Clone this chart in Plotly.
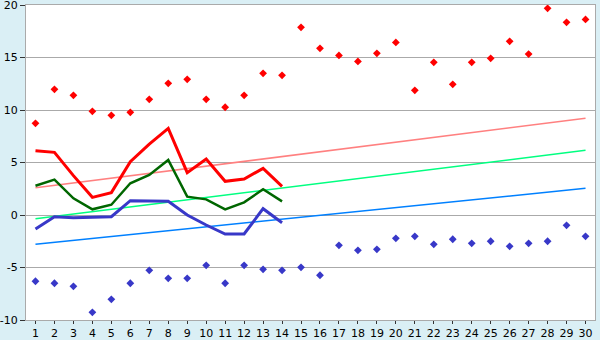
import plotly.graph_objects as go

days = list(range(1, 31))
line_days = list(range(1, 15))

red_points = [8.73, 11.97, 11.4, 9.87, 9.49, 9.78, 11.02, 12.54, 12.92, 11.02,
              10.26, 11.4, 13.49, 13.3, 17.87, 15.87, 15.2, 14.63, 15.4, 16.44,
              11.87, 14.54, 12.45, 14.54, 14.92, 16.54, 15.33, 19.68, 18.35, 18.63]
blue_points = [-6.31, -6.5, -6.79, -9.27, -8.03, -6.5, -5.27, -6.03, -6.03, -4.79,
               -6.5, -4.79, -5.17, -5.27, -4.98, -5.74, -2.89, -3.36, -3.27, -2.22,
               -2.03, -2.79, -2.31, -2.7, -2.5, -2.98, -2.7, -2.5, -0.98, -2.03]

red_line = [6.13, 5.97, 3.75, 1.68, 2.13, 5.08, 6.75, 8.25, 4.03, 5.33, 3.21, 3.43, 4.44, 2.73]
green_line = [2.79, 3.37, 1.59, 0.54, 0.98, 3.02, 3.81, 5.24, 1.75, 1.49, 0.54, 1.21, 2.45, 1.3]
blue_line = [-1.33, -0.16, -0.25, -0.19, -0.16, 1.36, 1.3, 1.3, 0.0, -0.95, -1.81, -1.81, 0.6, -0.73]

trend_days = [1, 30]
pink_trend = [2.6, 9.21]
spring_trend = [-0.35, 6.16]
sky_trend = [-2.79, 2.54]

y_ticks = [-10, -5, 0, 5, 10, 15, 20]
y_labels = ["-10", "-5", "0", "5", "10", "15", "20"]

fig = go.Figure()
fig.add_trace(go.Scatter(x=trend_days, y=pink_trend, mode="lines",
                         line=dict(color="#FF8080", width=1.5), hoverinfo="skip"))
fig.add_trace(go.Scatter(x=trend_days, y=spring_trend, mode="lines",
                         line=dict(color="#00FF80", width=1.5), hoverinfo="skip"))
fig.add_trace(go.Scatter(x=trend_days, y=sky_trend, mode="lines",
                         line=dict(color="#0080FF", width=1.5), hoverinfo="skip"))
fig.add_trace(go.Scatter(x=line_days, y=red_line, mode="lines",
                         line=dict(color="#FF0000", width=3)))
fig.add_trace(go.Scatter(x=line_days, y=green_line, mode="lines",
                         line=dict(color="#006600", width=2.5)))
fig.add_trace(go.Scatter(x=line_days, y=blue_line, mode="lines",
                         line=dict(color="#3838C8", width=3)))
fig.add_trace(go.Scatter(x=days, y=red_points, mode="markers",
                         marker=dict(symbol="diamond", size=6, color="#FF0000")))
fig.add_trace(go.Scatter(x=days, y=blue_points, mode="markers",
                         marker=dict(symbol="diamond", size=6, color="#3838C8")))

fig.update_layout(
    width=600, height=340,
    margin=dict(l=26, r=5, t=5, b=20, autoexpand=False),
    paper_bgcolor="#DAEFF5",
    plot_bgcolor="#FFFFFF",
    showlegend=False,
    font=dict(family="DejaVu Sans", size=11, color="#000000"),
)
fig.update_xaxes(
    range=[0.5, 30.5], tickmode="linear", tick0=1, dtick=1,
    showgrid=False, zeroline=False, automargin=False,
    showline=True, linecolor="#AAAAAA", linewidth=1, mirror=True,
    ticks="outside", ticklen=3, tickcolor="#333333",
    ticklabeloverflow="allow", ticklabelstandoff=0,
)
fig.update_yaxes(
    range=[-10, 20], tickvals=y_ticks, ticktext=y_labels,
    showgrid=True, gridcolor="#AAAAAA", gridwidth=1, zeroline=False,
    automargin=False,
    showline=True, linecolor="#AAAAAA", linewidth=1, mirror=True,
    ticks="outside", ticklen=5, tickcolor="#333333",
    ticklabeloverflow="allow", ticklabelstandoff=0,
)

fig.write_html("out.html")
